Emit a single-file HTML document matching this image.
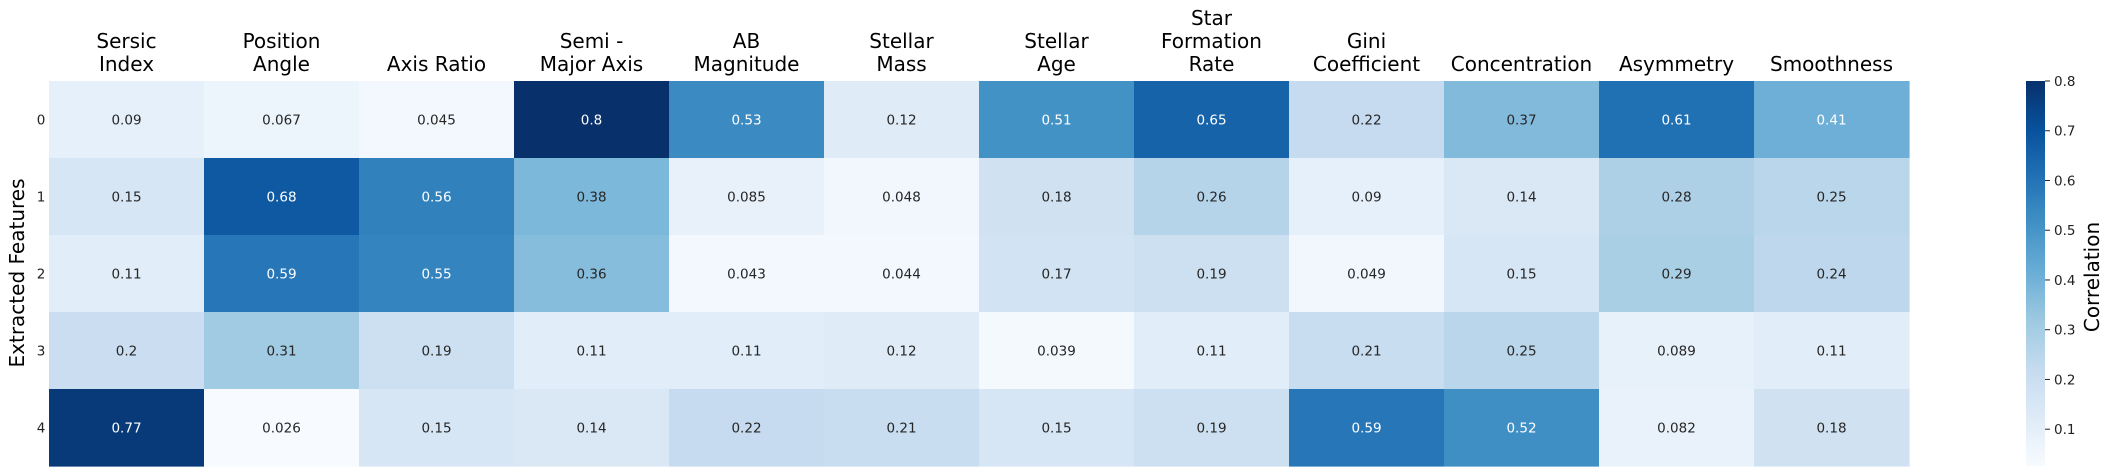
<!DOCTYPE html>
<html><head><meta charset="utf-8"><style>
html,body{margin:0;padding:0;background:#fff;}
svg{display:block;font-family:"DejaVu Sans","Liberation Sans",sans-serif;}
</style></head><body>
<svg id="chart" width="2112" height="476"></svg>
<script>
const columns=[["Sersic","Index"],["Position","Angle"],["Axis Ratio"],["Semi -","Major Axis"],["AB","Magnitude"],["Stellar","Mass"],["Stellar","Age"],["Star","Formation","Rate"],["Gini","Coefficient"],["Concentration"],["Asymmetry"],["Smoothness"]];
const rowLabels=["0","1","2","3","4"];
const row0=[0.09,0.067,0.045,0.8,0.53,0.12,0.51,0.65,0.22,0.37,0.61,0.41];
const row1=[0.15,0.68,0.56,0.38,0.085,0.048,0.18,0.26,0.09,0.14,0.28,0.25];
const row2=[0.11,0.59,0.55,0.36,0.043,0.044,0.17,0.19,0.049,0.15,0.29,0.24];
const row3=[0.2,0.31,0.19,0.11,0.11,0.12,0.039,0.11,0.21,0.25,0.089,0.11];
const row4=[0.77,0.026,0.15,0.14,0.22,0.21,0.15,0.19,0.59,0.52,0.082,0.18];
const values=[row0,row1,row2,row3,row4];
const cbTicks=[0.1,0.2,0.3,0.4,0.5,0.6,0.7,0.8];
const vmin=0.026,vmax=0.8;

const NS="http://www.w3.org/2000/svg";
const svg=document.getElementById('chart');
const L=49,T=81,W=1860,H=385;
const cw=W/columns.length,rh=H/values.length;
const xPos=i=>L+i*cw, yPos=j=>T+j*rh;
const stops=["#f7fbff","#deebf7","#c6dbef","#9ecae1","#6baed6","#4292c6","#2171b5","#08519c","#08306b"];
function hex(h){return [1,3,5].map(k=>parseInt(h.substr(k,2),16));}
function cmap(t){t=Math.max(0,Math.min(1,t));const p=t*8,i=Math.min(7,Math.floor(p)),f=p-i;const a=hex(stops[i]),b=hex(stops[i+1]);return a.map((c,k)=>Math.round(c+(b[k]-c)*f));}
function norm(v){return (v-vmin)/(vmax-vmin);}
function lin(c){c/=255;return c<=0.03928?c/12.92:Math.pow((c+0.055)/1.055,2.4);}
function el(tag,attrs,parent){const e=document.createElementNS(NS,tag);for(const k in attrs)e.setAttribute(k,attrs[k]);(parent||svg).appendChild(e);return e;}

values.forEach((row,j)=>{row.forEach((v,i)=>{
  const c=cmap(norm(v));
  const r=el('rect',{x:xPos(i),y:yPos(j),width:cw+0.6,height:rh+0.6,fill:`rgb(${c})`});
  
  
  const lum=0.2126*lin(c[0])+0.7152*lin(c[1])+0.0722*lin(c[2]);
  const t=el('text',{x:xPos(i)+cw/2,y:yPos(j)+rh/2+5,'text-anchor':'middle','font-size':13.5,fill:lum>0.408?'#262626':'#ffffff'});
  t.textContent=String(v);
  
  
});});

columns.forEach((lines,i)=>{
  const n=lines.length;
  lines.forEach((ln,k)=>{
    const t=el('text',{x:xPos(i)+cw/2,y:71-(n-1-k)*23,'text-anchor':'middle','font-size':20,fill:'#000'});
    t.textContent=ln;
    
    
  });
});

rowLabels.forEach((lb,j)=>{
  const t=el('text',{x:41,y:yPos(j)+rh/2+5,'text-anchor':'middle','font-size':13.5,fill:'#222'});
  t.textContent=lb;
  
  
});
const yt=el('text',{x:0,y:0,transform:'translate(24,273) rotate(-90)','text-anchor':'middle','font-size':20,fill:'#000'});
yt.textContent='Extracted Features';



// colorbar
const CX=2026,CW=19,CT=81,CH=385;
const defs=el('defs',{});
const g=el('linearGradient',{id:'cb',x1:0,y1:1,x2:0,y2:0},defs);
for(let k=0;k<=16;k++){const c=cmap(k/16);el('stop',{offset:k/16,'stop-color':`rgb(${c})`},g);}
const cb=el('rect',{x:CX,y:CT,width:CW,height:CH,fill:'url(#cb)'});


const cy=v=>CT+CH*(1-norm(v));
cbTicks.forEach(v=>{
  const y=cy(v);
  const l=el('line',{x1:CX+CW,x2:CX+CW+5,y1:y,y2:y,stroke:'#222','stroke-width':1});
  
  
  const t=el('text',{x:CX+CW+9,y:y+5,'font-size':13.5,fill:'#222'});
  t.textContent=v.toFixed(1);
  
  
});
const ct=el('text',{x:0,y:0,transform:'translate(2099,277) rotate(-90)','text-anchor':'middle','font-size':20,fill:'#000'});
ct.textContent='Correlation';


</script>
</body></html>
